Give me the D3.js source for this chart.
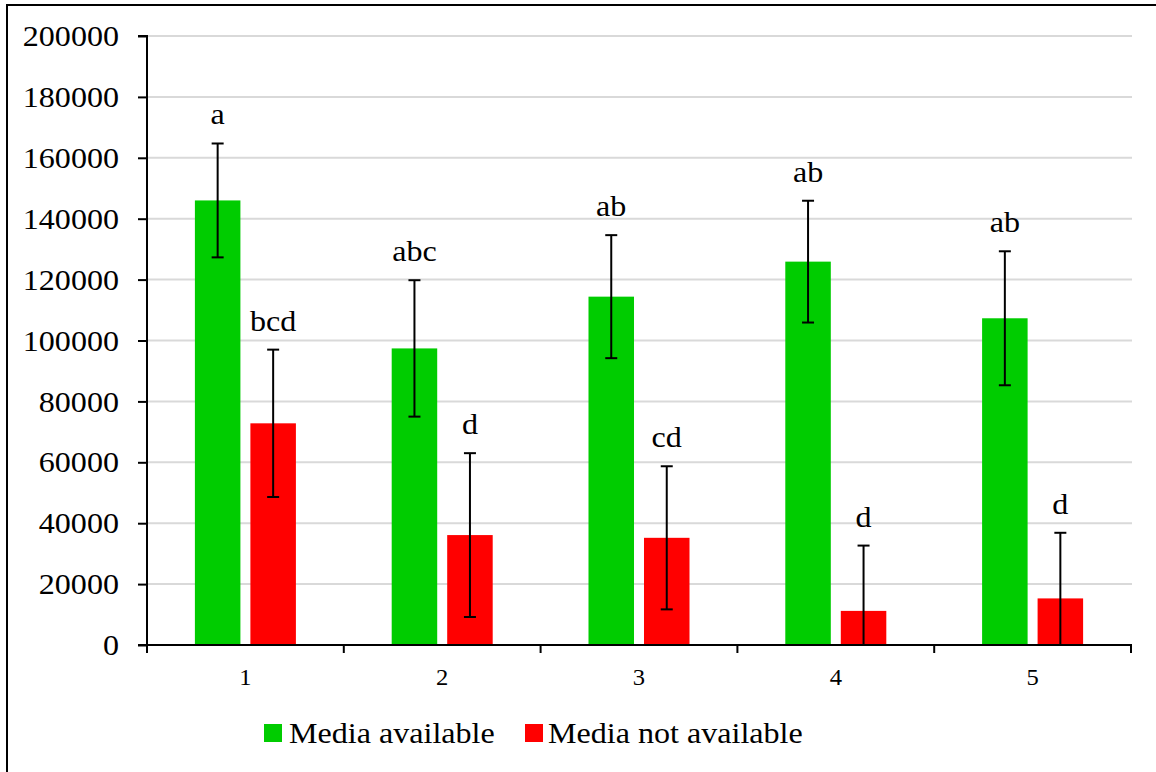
<!DOCTYPE html>
<html>
<head>
<meta charset="utf-8">
<script src="https://cdn.jsdelivr.net/npm/d3@7"></script>
<style>
  body { margin: 0; background: #fff; }
  svg { display: block; }
  svg text { font-family: "Liberation Serif", "Times New Roman", "DejaVu Serif", serif; fill: #000; }
</style>
</head>
<body>
<svg id="chart" width="1156" height="772"></svg>
<script>
const categories = ["1", "2", "3", "4", "5"];
const seriesNames = ["Media available", "Media not available"];
const availableMeans = [146000, 97400, 114400, 125900, 107300];
const availableErrors = [18700, 22400, 20200, 20000, 22000];
const availableLetters = ["a", "abc", "ab", "ab", "ab"];
const notAvailableMeans = [72800, 36100, 35200, 11200, 15300];
const notAvailableErrors = [24200, 26900, 23500, 21450, 21550];
const notAvailableLetters = ["bcd", "d", "cd", "d", "d"];
const yTicks = [0, 20000, 40000, 60000, 80000, 100000, 120000, 140000, 160000, 180000, 200000];
const colors = ["#00CC00", "#FF0000"];

const FONT = '"Liberation Serif", "Times New Roman", "DejaVu Serif", serif';
const SX = 1.07;
const svg = d3.select("#chart");
const W = 1156, H = 772;

// horizontally stretch text to match reference glyph widths
function stretch(sel) {
  sel.each(function () {
    const t = d3.select(this);
    const tx = +t.attr("x") || 0, ty = +t.attr("y") || 0;
    t.attr("x", 0).attr("y", 0).attr("transform", `translate(${tx},${ty}) scale(${SX},1)`);
  });
}

// frame
svg.append("rect").attr("x", 7).attr("y", 5).attr("width", W + 10).attr("height", H + 10)
  .attr("fill", "none").attr("stroke", "#000").attr("stroke-width", 2);

const x0 = 147, x1 = 1131, yTop = 36, yBot = 645;
const x = d3.scaleBand().domain(categories).range([x0, x1]).paddingInner(0).paddingOuter(0);
const xs = d3.scaleBand().domain(seriesNames).range([0, x.bandwidth()]).paddingInner(0.18).paddingOuter(0.863);
const y = d3.scaleLinear().domain([0, 200000]).range([yBot, yTop]);

// gridlines
svg.append("g").selectAll("line").data(yTicks.filter(t => t > 0)).join("line")
  .attr("x1", x0).attr("x2", x1 + 1).attr("y1", d => y(d)).attr("y2", d => y(d))
  .attr("stroke", "#D9D9D9").attr("stroke-width", 2);

const data = [];
categories.forEach((c, i) => {
  data.push({ c, s: seriesNames[0], v: availableMeans[i], e: availableErrors[i], l: availableLetters[i], col: colors[0] });
  data.push({ c, s: seriesNames[1], v: notAvailableMeans[i], e: notAvailableErrors[i], l: notAvailableLetters[i], col: colors[1] });
});

// bars
svg.append("g").selectAll("rect").data(data).join("rect")
  .attr("x", d => x(d.c) + xs(d.s))
  .attr("width", xs.bandwidth())
  .attr("y", d => y(d.v))
  .attr("height", d => y(0) - y(d.v))
  .attr("fill", d => d.col);

// error bars
const cx = d => x(d.c) + xs(d.s) + xs.bandwidth() / 2;
const eb = svg.append("g").attr("stroke", "#000").attr("stroke-width", 2);
data.forEach(d => {
  const hi = y(d.v + d.e);
  const lo = y(Math.max(0, d.v - d.e));
  eb.append("line").attr("x1", cx(d)).attr("x2", cx(d)).attr("y1", hi).attr("y2", lo);
  eb.append("line").attr("x1", cx(d) - 6).attr("x2", cx(d) + 6).attr("y1", hi).attr("y2", hi);
  if (d.v - d.e > 0) {
    eb.append("line").attr("x1", cx(d) - 6).attr("x2", cx(d) + 6).attr("y1", lo).attr("y2", lo);
  }
});

// letters
svg.append("g").selectAll("text").data(data).join("text")
  .attr("x", d => cx(d))
  .attr("y", d => y(d.v + d.e) - 19)
  .attr("text-anchor", "middle")
  .style("font-family", FONT)
  .style("font-size", "30px")
  .text(d => d.l)
  .call(stretch);

// y axis
const yAxis = d3.axisLeft(y).tickValues(yTicks).tickSize(9).tickPadding(19).tickFormat(d3.format("d"));
const gy = svg.append("g").attr("transform", `translate(${x0},0)`).call(yAxis);
gy.attr("font-family", null).attr("font-size", null);
gy.select(".domain").attr("stroke-width", 2).attr("d", `M-9,${yTop}H0V${yBot}H-9`);
gy.selectAll(".tick line").attr("stroke-width", 2);
gy.selectAll(".tick text").style("font-family", FONT).style("font-size", "30px").attr("fill", "#000").call(stretch);

// x axis
const gx = svg.append("g").attr("transform", `translate(0,${yBot})`);
gx.append("line").attr("x1", x0 - 1).attr("x2", x1 + 1).attr("y1", 0).attr("y2", 0)
  .attr("stroke", "#000").attr("stroke-width", 2);
const bounds = categories.map(c => x(c)).concat([x(categories[categories.length - 1]) + x.bandwidth()]);
gx.selectAll("line.bt").data(bounds).join("line").attr("class", "bt")
  .attr("x1", d => d).attr("x2", d => d).attr("y1", 0).attr("y2", 8)
  .attr("stroke", "#000").attr("stroke-width", 2);
gx.selectAll("text").data(categories).join("text")
  .attr("x", d => x(d) + x.bandwidth() / 2)
  .attr("y", 40)
  .attr("text-anchor", "middle")
  .style("font-family", FONT)
  .style("font-size", "23px")
  .text(d => d)
  .call(stretch);

// legend
const legend = svg.append("g");
const legX = [264, 525];
const legTextX = [289, 548];
seriesNames.forEach((s, i) => {
  legend.append("rect").attr("x", legX[i]).attr("y", 724).attr("width", 18).attr("height", 18).attr("fill", colors[i]);
  legend.append("text").attr("x", legTextX[i]).attr("y", 743)
    .style("font-family", FONT).style("font-size", "30px").text(s).call(stretch);
});
</script>
</body>
</html>
